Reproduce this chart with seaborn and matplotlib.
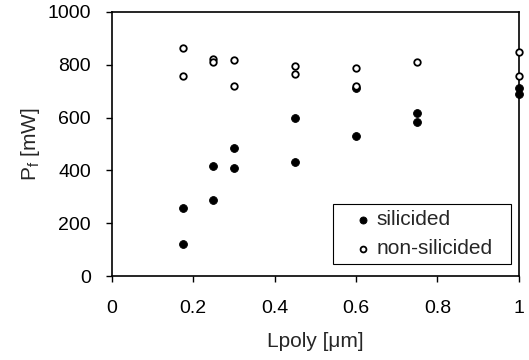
import matplotlib
matplotlib.use("Agg")
import matplotlib.pyplot as plt
import seaborn as sns
import pandas as pd

# Данные
lpoly_sil = [0.175, 0.175, 0.25, 0.25, 0.3, 0.3, 0.45, 0.45, 0.6, 0.6, 0.75, 0.75, 1.0, 1.0]
pf_sil = [259, 122, 417, 289, 486, 409, 600, 433, 530, 713, 617, 582, 713, 688]

lpoly_non = [0.175, 0.175, 0.25, 0.25, 0.3, 0.3, 0.45, 0.45, 0.6, 0.6, 0.75, 1.0, 1.0]
pf_non = [864, 758, 823, 811, 818, 720, 797, 766, 788, 721, 811, 848, 758]

x_ticks = [0, 0.2, 0.4, 0.6, 0.8, 1.0]
x_ticklabels = ["0", "0.2", "0.4", "0.6", "0.8", "1"]
y_ticks = [0, 200, 400, 600, 800, 1000]

sns.set_style("ticks")
plt.rcParams["font.family"] = ["Liberation Sans", "DejaVu Sans"]

sil = pd.DataFrame({"x": lpoly_sil, "y": pf_sil})
non = pd.DataFrame({"x": lpoly_non, "y": pf_non})

fig = plt.figure(figsize=(5.29, 3.6), dpi=100)
ax = fig.add_axes([0.211, 0.233, 0.770, 0.734])

sns.scatterplot(data=sil, x="x", y="y", ax=ax, color="black", edgecolor="black",
                s=32, linewidth=0.6, label="silicided", clip_on=False, zorder=3)
sns.scatterplot(data=non, x="x", y="y", ax=ax, facecolor="white", edgecolor="black",
                s=22, linewidth=1.3, label="non-silicided", clip_on=False, zorder=4)

ax.set_xlim(0, 1)
ax.set_ylim(0, 1000)
ax.set_xticks(x_ticks)
ax.set_xticklabels(x_ticklabels)
ax.set_yticks(y_ticks)
ax.tick_params(direction="out", length=4, width=1, labelsize=14, colors="black")
ax.tick_params(axis="x", pad=13)
ax.tick_params(axis="y", pad=11)

for sp in ax.spines.values():
    sp.set_visible(True)
    sp.set_color("black")
    sp.set_linewidth(1.2)

ax.set_xlabel("Lpoly [\u03bcm]", fontsize=15, labelpad=11)
ax.set_ylabel("P$_\\mathregular{f}$ [mW]", fontsize=15, labelpad=4)

# рамка легенды как в оригинале: шире, ниже
leg = ax.legend(loc="lower left", bbox_to_anchor=(0.543, 0.045, 0.437, 0.231),
                mode="expand", fontsize=15, frameon=True, fancybox=False,
                edgecolor="black", framealpha=1, handlelength=2.3,
                handletextpad=-0.52, borderpad=0.3, labelspacing=0.48,
                markerscale=0.9, borderaxespad=0)
leg.get_frame().set_linewidth(0.8)

fig.savefig("out.png", dpi=100)
